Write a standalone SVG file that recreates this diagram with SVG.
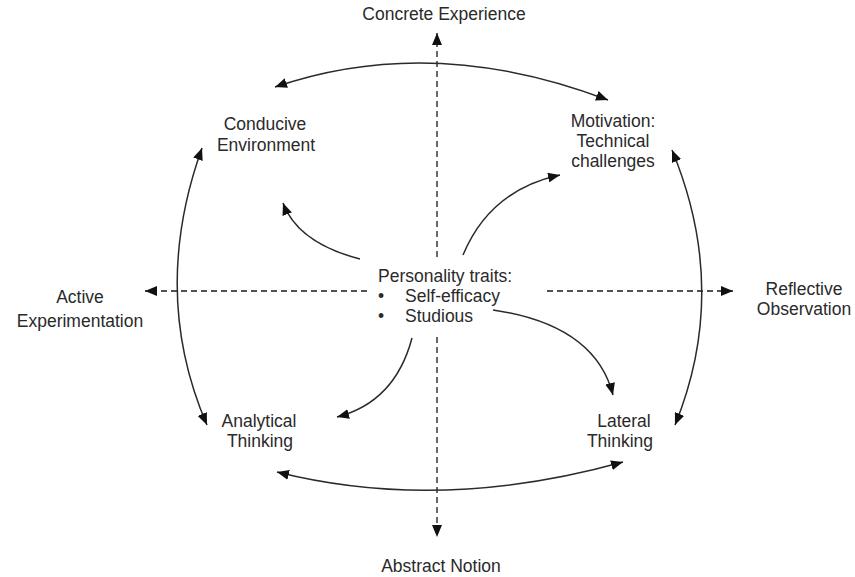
<svg xmlns="http://www.w3.org/2000/svg" width="855" height="577" viewBox="0 0 855 577">
  <style>
    .lbl { font-family: "Liberation Sans", Arial, sans-serif; font-size: 17.5px; fill: #2a2a2a; text-anchor: middle; }
    .lbl-l { font-family: "Liberation Sans", Arial, sans-serif; font-size: 17.5px; fill: #2a2a2a; }
    .axis { fill: none; stroke: #1a1a1a; stroke-width: 1.3; stroke-dasharray: 6 4; marker-end: url(#head); }
    .link { fill: none; stroke: #2a2a2a; stroke-width: 1.5; marker-end: url(#head); }
    .both { marker-start: url(#head); }
  </style>
  <defs>
    <marker id="head" viewBox="0 0 12 10" refX="12" refY="5" markerWidth="12" markerHeight="10" markerUnits="userSpaceOnUse" orient="auto-start-reverse">
      <path d="M0,0 L12,5 L0,10 Z" fill="#111"/>
    </marker>
  </defs>
  <rect width="855" height="577" fill="#fff"/>

  <!-- axes and connectors -->
  <g id="connectors">
    <path class="axis" d="M437,257 L437,33"/>
    <path class="axis" d="M437,337 L437,537"/>
    <path class="axis" d="M367,291 L145,291"/>
    <path class="axis" d="M547,291 L733,291"/>

    <path class="link both" d="M275,87 Q432,33 608,100"/>
    <path class="link both" d="M277,472 Q440,513 623,462"/>
    <path class="link both" d="M202,148 Q150,293 207,425"/>
    <path class="link both" d="M672,150 Q730,290 675,425"/>

    <path class="link" d="M360,259 Q298,243 283,203"/>
    <path class="link" d="M463,255 Q490,190 560,175"/>
    <path class="link" d="M493,310 Q595,325 613,395"/>
    <path class="link" d="M412,338 Q395,402 337,417"/>
  </g>

  <g id="concrete-experience"><text class="lbl" x="444" y="20">Concrete Experience</text></g>
  <g id="abstract-notion"><text class="lbl" x="441" y="572">Abstract Notion</text></g>
  <g id="active-experimentation">
    <text class="lbl" x="80" y="303">Active</text>
    <text class="lbl" x="80" y="327">Experimentation</text>
  </g>
  <g id="reflective-observation">
    <text class="lbl" x="804" y="295">Reflective</text>
    <text class="lbl" x="804" y="315">Observation</text>
  </g>
  <g id="conducive-environment">
    <text class="lbl" x="265" y="130">Conducive</text>
    <text class="lbl" x="266" y="151">Environment</text>
  </g>
  <g id="motivation">
    <text class="lbl" x="613" y="127">Motivation:</text>
    <text class="lbl" x="613" y="147">Technical</text>
    <text class="lbl" x="613" y="167">challenges</text>
  </g>
  <g id="analytical-thinking">
    <text class="lbl" x="259" y="427">Analytical</text>
    <text class="lbl" x="260" y="447">Thinking</text>
  </g>
  <g id="lateral-thinking">
    <text class="lbl" x="624" y="427">Lateral</text>
    <text class="lbl" x="620" y="447">Thinking</text>
  </g>
  <g id="personality-traits">
    <text class="lbl-l" x="378" y="282">Personality traits:</text>
    <text class="lbl-l" x="378" y="302">•</text>
    <text class="lbl-l" x="405" y="302">Self-efficacy</text>
    <text class="lbl-l" x="378" y="322">•</text>
    <text class="lbl-l" x="405" y="322">Studious</text>
  </g>
</svg>
